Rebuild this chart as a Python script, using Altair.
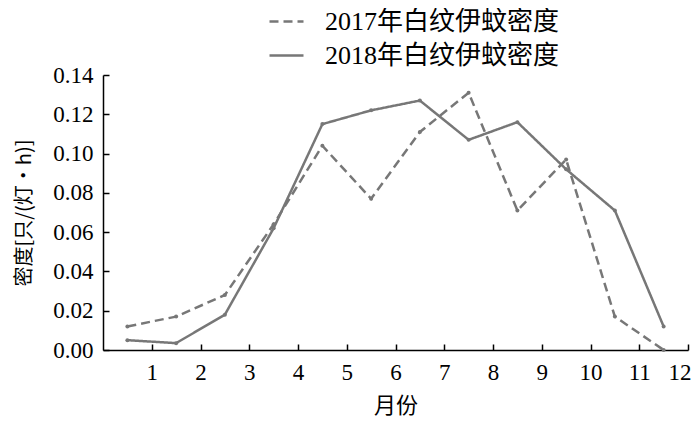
import altair as alt
import pandas as pd

months = [0.5, 1.5, 2.5, 3.5, 4.5, 5.5, 6.5, 7.5, 8.5, 9.5, 10.5, 11.5]
d2017 = [0.012, 0.017, 0.028, 0.064, 0.104, 0.077, 0.111, 0.131, 0.071, 0.097, 0.017, 0.0]
d2018 = [0.005, 0.0035, 0.018, 0.062, 0.115, 0.122, 0.127, 0.107, 0.116, 0.092, 0.071, 0.012]
series = ["2017年白纹伊蚊密度", "2018年白纹伊蚊密度"]
x_ticks = [1, 2, 3, 4, 5, 6, 7, 8, 9, 10, 11, 12]
y_ticks = [0.0, 0.02, 0.04, 0.06, 0.08, 0.10, 0.12, 0.14]

rows = []
for m, v in zip(months, d2017):
    rows.append({"m": m, "v": v, "s": series[0]})
for m, v in zip(months, d2018):
    rows.append({"m": m, "v": v, "s": series[1]})
df = pd.DataFrame(rows)

GRAY = "#777777"
FONT = "Liberation Serif, Noto Sans CJK SC"
W, H = 585, 275

xscale = alt.Scale(domain=[0, 12], nice=False, zero=False)
yscale = alt.Scale(domain=[0, 0.14], nice=False)

xaxis = alt.Axis(values=x_ticks, title="月份", ticks=False, grid=False, labelFlush=True,
                 labelFlushOffset=3,
                 labelOverlap=False, labelFontSize=23, labelPadding=11, labelColor="black",
                 labelFont=FONT, titleFontSize=22, titleFont="Noto Sans CJK SC",
                 titleFontWeight="normal", titlePadding=11, titleColor="black",
                 domainColor="black", domainWidth=1.5)
yaxis = alt.Axis(values=y_ticks, format=".2f", title="密度[只/(灯·h)]", ticks=False, grid=False,
                 labelFlush=False, labelOverlap=False, labelFontSize=23, labelPadding=10,
                 labelColor="black", labelFont=FONT, titleFontSize=20,
                 titleFont="Noto Sans CJK SC", titleFontWeight="normal", titlePadding=18,
                 titleColor="black", domainColor="black", domainWidth=1.5)

# inward tick marks: secondary axes moved onto the plot edges
xtick_axis = alt.Axis(orient="top", offset=-H, values=x_ticks, labels=False, domain=False,
                      title=None, grid=False, ticks=True, tickSize=6, tickWidth=1.5,
                      tickColor="black")
ytick_axis = alt.Axis(orient="right", offset=-W, values=y_ticks, labels=False, domain=False,
                      title=None, grid=False, ticks=True, tickSize=6, tickWidth=1.5,
                      tickColor="black")

lines = alt.Chart(df).mark_line(strokeWidth=2.5, color=GRAY).encode(
    x=alt.X("m:Q", scale=xscale, axis=xaxis),
    y=alt.Y("v:Q", scale=yscale, axis=yaxis),
    strokeDash=alt.StrokeDash("s:N", scale=alt.Scale(domain=series, range=[[9, 5], [1, 0]]),
                              legend=alt.Legend(title=None, orient="none", legendX=165, legendY=-72,
                                                symbolType="stroke", symbolSize=1156,
                                                symbolStrokeWidth=2.5, symbolStrokeColor=GRAY,
                                                symbolOpacity=1,
                                                labelFontSize=26, labelFont=FONT, labelColor="black",
                                                labelOffset=20, rowPadding=2, padding=0,
                                                labelLimit=400)),
)

points = alt.Chart(df).mark_circle(size=16, color=GRAY, opacity=1).encode(
    x=alt.X("m:Q", scale=xscale, axis=xtick_axis),
    y=alt.Y("v:Q", scale=yscale, axis=ytick_axis),
    detail="s:N",
)

chart = alt.layer(lines, points).resolve_axis(x="independent", y="independent").properties(
    width=W, height=H,
    autosize=alt.AutoSizeParams(type="none"),
    padding={"left": 95, "top": 67, "right": 4, "bottom": 68},
    background="white",
).configure_view(stroke=None)

chart.save("out.html", embed_options={"renderer": "svg", "actions": False})
